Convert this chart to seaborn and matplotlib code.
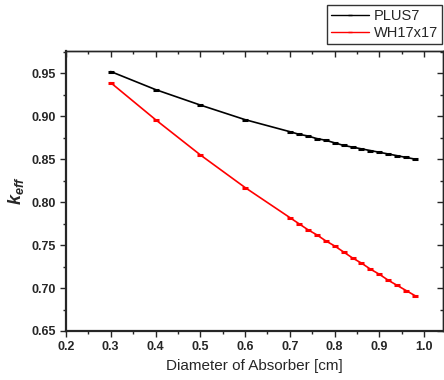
import pandas as pd
import matplotlib
matplotlib.use("Agg")
import matplotlib.pyplot as plt
import seaborn as sns
from matplotlib.ticker import MultipleLocator

# === Data ===
diameter = [0.30, 0.40, 0.50, 0.60, 0.70, 0.72, 0.74, 0.76, 0.78, 0.80,
            0.82, 0.84, 0.86, 0.88, 0.90, 0.92, 0.94, 0.96, 0.98]
plus7 = [0.952, 0.931, 0.913, 0.896, 0.882, 0.879, 0.877, 0.874, 0.872, 0.869,
         0.866, 0.864, 0.862, 0.860, 0.858, 0.856, 0.854, 0.852, 0.850]
wh17x17 = [0.939, 0.896, 0.855, 0.817, 0.782, 0.775, 0.768, 0.762, 0.755, 0.749,
           0.742, 0.735, 0.729, 0.722, 0.716, 0.709, 0.703, 0.697, 0.691]
series_names = ["PLUS7", "WH17x17"]
series_colors = ["black", "red"]
x_ticks = [0.2, 0.3, 0.4, 0.5, 0.6, 0.7, 0.8, 0.9, 1.0]

df = pd.concat([
    pd.DataFrame({"diameter": diameter, "keff": plus7, "fuel": "PLUS7"}),
    pd.DataFrame({"diameter": diameter, "keff": wh17x17, "fuel": "WH17x17"}),
])

# === Style ===
sns.set_style("ticks")
plt.rcParams["font.family"] = ["Liberation Sans", "DejaVu Sans"]
plt.rcParams["mathtext.fontset"] = "custom"
plt.rcParams["mathtext.rm"] = "Liberation Sans"
plt.rcParams["mathtext.it"] = "Liberation Sans:italic:bold"
plt.rcParams["mathtext.bf"] = "Liberation Sans:bold"

fig = plt.figure(figsize=(4.44, 3.8), dpi=100)
ax = fig.add_axes([0.1486, 0.129, 0.849, 0.737])

sns.lineplot(data=df, x="diameter", y="keff", hue="fuel", hue_order=series_names,
             palette=series_colors, marker="_", markersize=5, markeredgewidth=2.2,
             linewidth=1.2, ax=ax, legend=False)
for line in ax.lines:
    line.set_markeredgecolor(line.get_color())

ax.set_xlim(0.2, 1.042)
ax.set_ylim(0.65, 0.976)
ax.set_xticks(x_ticks)
ax.set_xticklabels([f"{t:.1f}" for t in x_ticks])
ax.xaxis.set_minor_locator(MultipleLocator(0.05))
ax.yaxis.set_major_locator(MultipleLocator(0.05))
ax.yaxis.set_minor_locator(MultipleLocator(0.025))

ax.tick_params(which="both", direction="out", labelsize=9, width=1)
ax.tick_params(which="major", length=4)
ax.tick_params(which="minor", length=2.5)
for lbl in ax.get_xticklabels() + ax.get_yticklabels():
    lbl.set_fontweight("bold")
for side in ["left", "bottom"]:
    ax.spines[side].set_linewidth(1.6)
for side in ["top", "right"]:
    ax.spines[side].set_linewidth(1.0)

# mirrored ticks pointing inward on top and right
top = ax.secondary_xaxis("top")
top.set_xticks(x_ticks)
top.xaxis.set_minor_locator(MultipleLocator(0.05))
top.tick_params(which="both", direction="in", labeltop=False, width=1)
top.tick_params(which="major", length=4)
top.tick_params(which="minor", length=2.5)
top.spines["top"].set_linewidth(1.0)
right = ax.secondary_yaxis("right")
right.yaxis.set_major_locator(MultipleLocator(0.05))
right.yaxis.set_minor_locator(MultipleLocator(0.025))
right.tick_params(which="both", direction="in", labelright=False, width=1)
right.tick_params(which="major", length=4)
right.tick_params(which="minor", length=2.5)
right.spines["right"].set_linewidth(1.0)

ax.set_xlabel("Diameter of Absorber [cm]", fontsize=11, labelpad=4)
ax.set_ylabel("$k_{eff}$", fontsize=13)

# legend above the axes, top right corner
handles = [plt.Line2D([], [], color=c, lw=1, marker="_", markersize=3) for c in series_colors]
leg = fig.legend(handles, series_names, loc="upper left", bbox_to_anchor=(0.736, 0.988),
                 frameon=True, fancybox=False, edgecolor="black", fontsize=10.5,
                 handlelength=2.6, handletextpad=0.3, borderpad=0.3, labelspacing=0.2,
                 borderaxespad=0)
leg.get_frame().set_linewidth(1.0)

fig.savefig("out.png", dpi=100)
plt.close(fig)
